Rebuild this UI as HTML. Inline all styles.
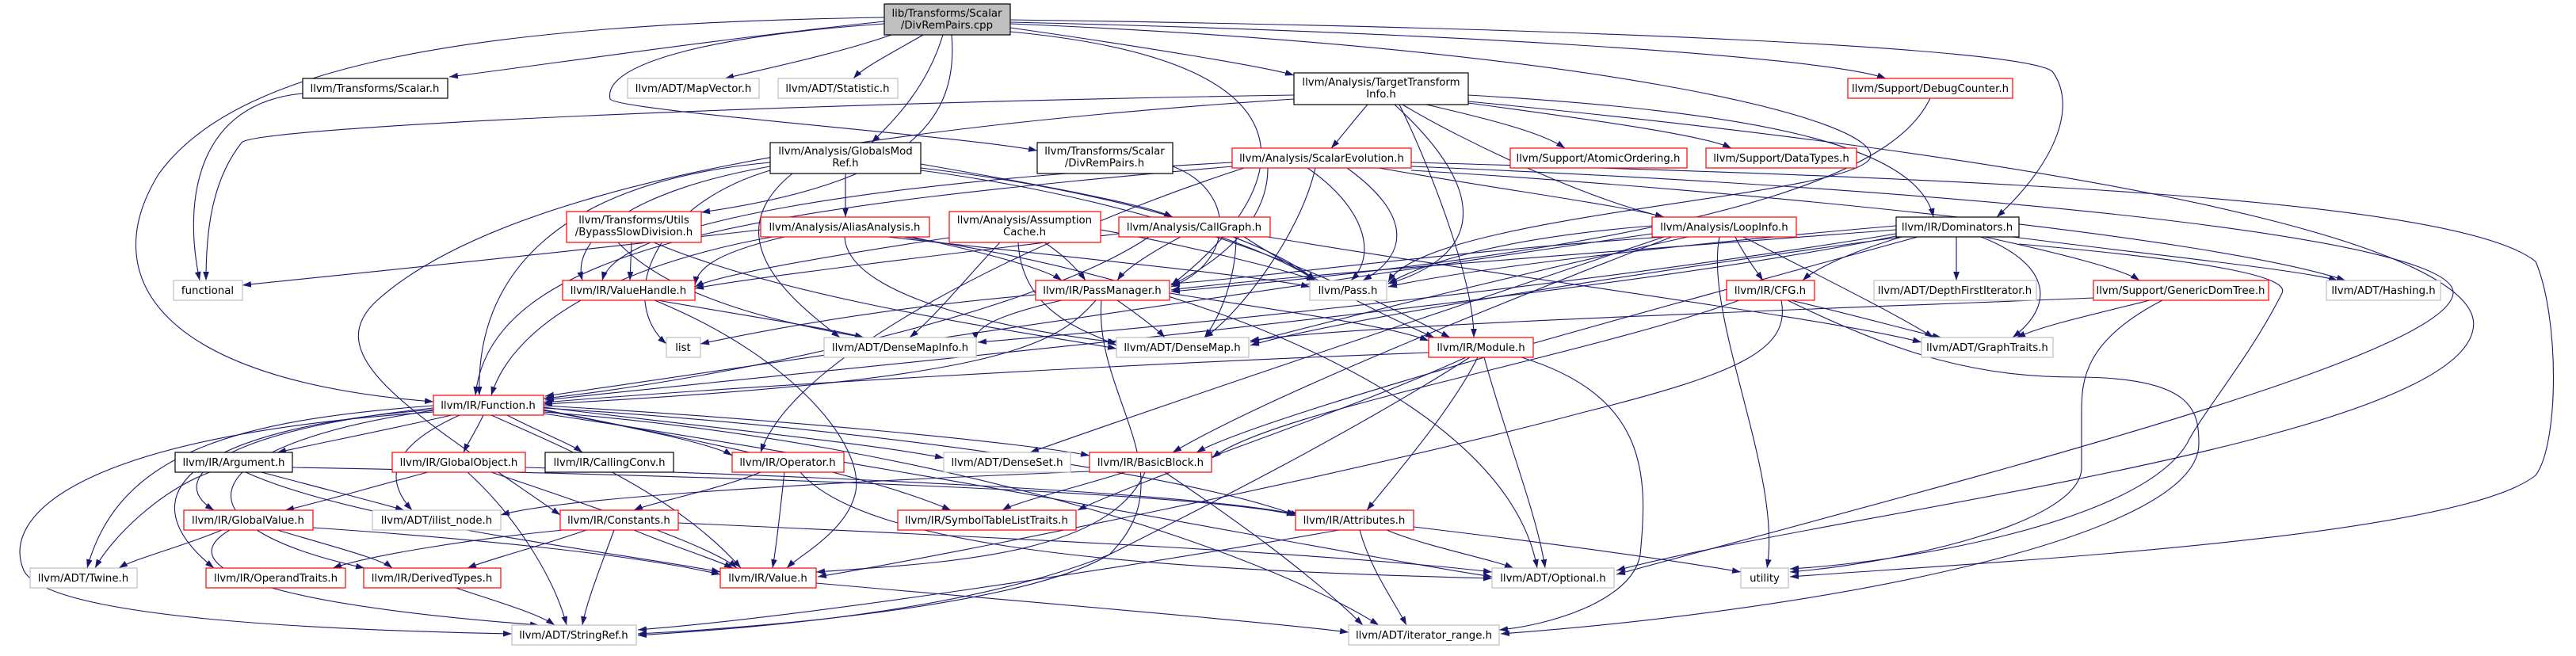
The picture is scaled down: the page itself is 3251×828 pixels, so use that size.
<!DOCTYPE html>
<html><head><meta charset="utf-8"><style>
html,body{margin:0;padding:0;background:#fff;}
svg{display:block;}
text{font-family:"DejaVu Sans","Liberation Sans",sans-serif;font-size:13.3px;fill:#000;}
</style></head><body>
<svg width="3251" height="828" viewBox="0 0 3251 828" xmlns="http://www.w3.org/2000/svg">
<defs><marker id="a" viewBox="0 0 10 7" refX="10" refY="3.5" markerWidth="11" markerHeight="8" markerUnits="userSpaceOnUse" orient="auto"><path d="M0,0 L10,3.5 L0,7 z" fill="#191970"/></marker></defs>
<g fill="none" stroke="#191970" stroke-width="1.1" marker-end="url(#a)">
<path d="M1116 27 C900 50 700 80 567 97"/>
<path d="M1125 44 C1050 70 950 90 915 99"/>
<path d="M1165 44 C1120 70 1090 85 1077 99"/>
<path d="M1190 44 C1170 110 1130 150 1100 180"/>
<path d="M1116 30 C900 45 760 80 770 125 C780 140 1200 170 1309 190"/>
<path d="M1275 35 C1450 60 1600 85 1633 95"/>
<path d="M1275 28 C1800 40 2300 70 2380 99"/>
<path d="M1275 25 C2000 35 2550 60 2590 90 C2620 130 2600 200 2520 274"/>
<path d="M1116 22 C600 30 300 80 200 220 C120 350 200 480 547 507"/>
<path d="M1201 44 C1210 150 1150 230 885 268"/>
<path d="M1275 30 C2000 60 2380 150 2360 200 C2330 250 1800 270 1752 356"/>
<path d="M1275 40 C1700 80 1620 250 1478 360"/>
<path d="M1633 120 C1000 130 320 160 305 180 C265 230 260 300 260 354"/>
<path d="M382 118 C250 130 230 250 252 354"/>
<path d="M1726 132 C1710 150 1695 170 1680 187"/>
<path d="M1800 132 C1900 155 1950 170 1975 187"/>
<path d="M1853 130 C2000 150 2150 170 2185 187"/>
<path d="M1770 132 C1850 180 2000 250 2100 274"/>
<path d="M1760 132 C1900 260 1850 330 1752 358"/>
<path d="M1766 132 C1800 200 1860 350 1860 426"/>
<path d="M1853 120 C2200 140 2420 180 2440 274"/>
<path d="M1853 128 C2800 220 3150 330 3120 420 C3080 560 2300 650 2040 720"/>
<path d="M1633 125 C1100 160 640 230 475 380 C400 450 520 520 707 650"/>
<path d="M1781 205 C2500 225 3100 250 3200 330 C3230 400 3230 560 3200 600 C3100 680 2500 710 2259 728"/>
<path d="M1781 210 C2500 240 3100 300 3096 370 C3090 450 2500 600 2040 725"/>
<path d="M1781 215 C2200 240 2800 300 2960 354"/>
<path d="M1740 212 C1900 240 2050 260 2100 274"/>
<path d="M1700 212 C1780 270 1780 320 1720 354"/>
<path d="M1650 212 C1720 260 1740 320 1705 354"/>
<path d="M1600 212 C1600 280 1540 330 1478 360"/>
<path d="M1555 205 C1100 230 780 280 760 354"/>
<path d="M1555 210 C1000 260 620 300 600 499"/>
<path d="M1570 212 C1300 300 1000 450 960 571"/>
<path d="M1660 212 C1640 300 1560 400 1520 426"/>
<path d="M1067 219 L1067 274"/>
<path d="M1162 207 C1350 240 1450 260 1480 274"/>
<path d="M972 205 C700 230 600 350 605 499"/>
<path d="M972 210 C800 240 720 300 735 354"/>
<path d="M1162 212 C1400 240 1600 300 1660 354"/>
<path d="M1162 215 C1500 260 1700 360 1830 426"/>
<path d="M972 215 C820 260 780 380 841 434"/>
<path d="M1000 219 C900 300 1000 380 1060 426"/>
<path d="M1480 210 C1560 240 1560 330 1478 362"/>
<path d="M1150 299 C1250 320 1320 340 1340 354"/>
<path d="M1120 299 C1400 330 1600 350 1653 362"/>
<path d="M1066 299 C1070 380 1300 420 1409 432"/>
<path d="M975 299 C800 330 650 400 620 499"/>
<path d="M990 299 C900 320 880 340 877 360"/>
<path d="M1140 299 C1500 350 1900 500 1940 717"/>
<path d="M960 290 C700 320 400 350 306 360"/>
<path d="M1318 306 C1340 320 1360 340 1370 354"/>
<path d="M1285 306 C1290 400 1380 420 1409 436"/>
<path d="M1262 306 C1220 350 1180 400 1148 426"/>
<path d="M1198 300 C1000 330 900 350 877 362"/>
<path d="M1389 290 C1500 310 1620 340 1660 354"/>
<path d="M1490 299 C1450 320 1420 340 1410 354"/>
<path d="M1540 299 C1600 320 1640 340 1660 354"/>
<path d="M1412 295 C1200 320 950 350 877 364"/>
<path d="M1560 299 C1560 350 1540 400 1520 426"/>
<path d="M1450 299 C1300 400 900 480 686 503"/>
<path d="M1600 299 C1900 350 2300 400 2425 432"/>
<path d="M1570 299 C1650 350 1750 400 1810 426"/>
<path d="M797 306 L795 354"/>
<path d="M825 306 C1000 380 1300 420 1409 440"/>
<path d="M780 306 C850 380 1000 410 1090 426"/>
<path d="M830 379 C950 400 1050 415 1090 426"/>
<path d="M826 379 C1000 450 1090 560 1080 620 C1070 670 1010 700 993 717"/>
<path d="M1410 379 C1440 400 1460 415 1470 426"/>
<path d="M1476 370 C1600 390 1750 410 1803 430"/>
<path d="M1383 379 C1330 440 1250 480 686 510"/>
<path d="M1307 372 C1100 390 950 420 884 434"/>
<path d="M1390 379 C1380 500 1500 600 1400 700 C1300 760 1000 790 805 800"/>
<path d="M1340 379 C1250 400 1230 415 1232 430"/>
<path d="M2469 299 L2469 354"/>
<path d="M2505 299 C2600 320 2680 340 2700 354"/>
<path d="M2540 299 C2700 320 2900 340 2950 354"/>
<path d="M2400 299 C2330 320 2290 340 2275 354"/>
<path d="M2393 285 C2100 310 1850 340 1752 362"/>
<path d="M2393 290 C2000 320 1600 350 1478 366"/>
<path d="M2400 299 C2100 340 1700 400 1578 436"/>
<path d="M2393 295 C2000 360 1500 410 1234 432"/>
<path d="M2420 299 C2200 360 1600 520 1510 571"/>
<path d="M2393 298 C2000 380 1000 470 688 505"/>
<path d="M2500 299 C2580 330 2600 380 2540 426"/>
<path d="M2548 308 C2800 330 2890 350 2880 370 C2840 450 2780 520 2760 560 C2700 660 2400 710 2259 718"/>
<path d="M2190 299 C2200 320 2215 340 2225 354"/>
<path d="M2085 285 C1900 300 1800 330 1752 358"/>
<path d="M2100 299 C1800 320 1600 350 1478 358"/>
<path d="M2130 299 C1900 350 1700 400 1578 432"/>
<path d="M2200 299 C2300 350 2400 400 2440 426"/>
<path d="M2170 299 C2150 400 2250 600 2230 717"/>
<path d="M2110 299 C1900 380 1600 500 1480 571"/>
<path d="M2100 299 C1800 400 1500 500 1300 571"/>
<path d="M2085 295 C1500 380 900 470 688 500"/>
<path d="M2260 379 C2350 400 2420 420 2450 426"/>
<path d="M2195 379 C2000 450 1600 520 1530 578"/>
<path d="M2248 379 C2260 440 2200 470 2000 520 C1700 600 1200 700 1032 728"/>
<path d="M2256 379 C2400 450 2500 476 2620 476 C2770 476 2775 520 2775 560 C2775 680 2300 770 1894 800"/>
<path d="M2729 379 C2630 430 2627 480 2627 520 L2627 590 C2627 660 2400 710 2259 722"/>
<path d="M2642 376 C2300 390 1700 410 1578 430"/>
<path d="M2713 379 C2650 395 2580 410 2545 426"/>
<path d="M1803 445 C1400 460 900 490 686 508"/>
<path d="M1865 451 C1830 520 1760 600 1725 644"/>
<path d="M1873 451 C1900 550 1940 650 1950 717"/>
<path d="M1920 451 C2080 500 2080 600 2070 700 C2060 760 1950 790 1892 795"/>
<path d="M1855 451 C1700 550 1500 650 1400 700 C1200 780 900 795 805 802"/>
<path d="M1850 451 C1700 520 1450 600 1360 644"/>
<path d="M570 524 C500 540 400 560 350 571"/>
<path d="M610 524 C600 545 590 560 585 571"/>
<path d="M640 524 C680 545 720 560 735 571"/>
<path d="M686 518 C800 540 900 560 924 575"/>
<path d="M686 514 C900 540 1100 560 1191 578"/>
<path d="M686 512 C1000 530 1300 560 1375 575"/>
<path d="M686 517 C900 560 1100 600 1200 644"/>
<path d="M686 515 C1100 540 1500 600 1635 650"/>
<path d="M580 524 C500 560 480 600 520 644"/>
<path d="M620 524 C700 560 850 620 935 717"/>
<path d="M547 512 C300 530 150 570 110 717"/>
<path d="M547 515 C300 540 200 600 270 644"/>
<path d="M547 517 C250 540 150 620 270 717"/>
<path d="M547 518 C250 560 200 660 460 717"/>
<path d="M547 520 C100 550 0 650 30 720 C60 780 400 795 646 800"/>
<path d="M686 520 C1200 560 1600 700 1740 789"/>
<path d="M686 522 C1200 600 1700 700 1883 728"/>
<path d="M265 596 C200 620 140 680 120 717"/>
<path d="M330 596 C420 620 480 635 510 644"/>
<path d="M310 596 C450 660 800 700 909 722"/>
<path d="M369 590 C900 600 1500 620 1635 650"/>
<path d="M540 596 C450 620 400 635 360 644"/>
<path d="M590 596 C650 650 700 730 715 789"/>
<path d="M620 596 C750 640 900 690 930 717"/>
<path d="M663 590 C1000 600 1500 620 1640 650"/>
<path d="M960 596 C900 620 820 635 800 644"/>
<path d="M990 596 C985 640 980 690 975 717"/>
<path d="M1010 596 C1100 700 1500 720 1883 730"/>
<path d="M1420 596 C1340 620 1280 635 1265 644"/>
<path d="M1445 596 C1400 700 1200 710 1030 722"/>
<path d="M1470 596 C1550 650 1650 720 1720 789"/>
<path d="M1375 595 C1000 610 700 630 632 650"/>
<path d="M280 669 C230 690 170 705 150 717"/>
<path d="M350 669 C420 690 480 705 495 717"/>
<path d="M290 669 C220 710 300 760 680 789"/>
<path d="M395 666 C600 680 800 700 909 725"/>
<path d="M710 669 C600 680 470 700 420 717"/>
<path d="M740 669 C680 690 620 705 590 717"/>
<path d="M775 669 C760 710 740 760 735 789"/>
<path d="M800 669 C850 690 900 705 925 717"/>
<path d="M856 660 C1300 680 1700 700 1883 722"/>
<path d="M1750 669 C1800 690 1880 705 1910 717"/>
<path d="M1716 669 C1730 720 1760 760 1775 789"/>
<path d="M1690 669 C1400 720 1000 780 805 795"/>
<path d="M1784 665 C1950 685 2100 705 2197 722"/>
<path d="M575 742 C630 760 680 775 700 789"/>
<path d="M1030 736 C1300 760 1600 785 1702 798"/>
<path d="M2436 124 C2400 200 2250 300 1478 368"/>
</g>
<g stroke-width="1.2">
<rect x="1116" y="5" width="159" height="39" fill="#bfbfbf" stroke="#000"/>
<g fill="#fff">
<rect x="382" y="99" width="183" height="25" stroke="#000"/>
<rect x="792" y="99" width="166" height="25" stroke="#bfbfbf"/>
<rect x="982" y="99" width="151" height="25" stroke="#bfbfbf"/>
<rect x="1633" y="92" width="220" height="40" stroke="#000"/>
<rect x="2332" y="99" width="208" height="25" stroke="#f00"/>
<rect x="972" y="180" width="190" height="39" stroke="#000"/>
<rect x="1309" y="180" width="171" height="39" stroke="#000"/>
<rect x="1555" y="187" width="226" height="25" stroke="#f00"/>
<rect x="1906" y="187" width="223" height="25" stroke="#f00"/>
<rect x="2153" y="187" width="190" height="25" stroke="#f00"/>
<rect x="715" y="267" width="170" height="39" stroke="#f00"/>
<rect x="960" y="274" width="213" height="25" stroke="#f00"/>
<rect x="1198" y="267" width="191" height="39" stroke="#f00"/>
<rect x="1412" y="274" width="191" height="25" stroke="#f00"/>
<rect x="2085" y="274" width="182" height="25" stroke="#f00"/>
<rect x="2393" y="274" width="155" height="25" stroke="#000"/>
<rect x="219" y="354" width="87" height="25" stroke="#bfbfbf"/>
<rect x="710" y="354" width="167" height="25" stroke="#f00"/>
<rect x="1307" y="354" width="169" height="25" stroke="#f00"/>
<rect x="1653" y="354" width="97" height="25" stroke="#bfbfbf"/>
<rect x="2179" y="354" width="111" height="25" stroke="#f00"/>
<rect x="2365" y="354" width="205" height="25" stroke="#bfbfbf"/>
<rect x="2642" y="354" width="221" height="25" stroke="#f00"/>
<rect x="2936" y="354" width="144" height="25" stroke="#bfbfbf"/>
<rect x="841" y="426" width="43" height="25" stroke="#bfbfbf"/>
<rect x="1040" y="426" width="192" height="25" stroke="#bfbfbf"/>
<rect x="1409" y="426" width="167" height="25" stroke="#bfbfbf"/>
<rect x="1803" y="426" width="132" height="25" stroke="#f00"/>
<rect x="2425" y="426" width="166" height="25" stroke="#bfbfbf"/>
<rect x="547" y="499" width="139" height="25" stroke="#f00"/>
<rect x="221" y="571" width="148" height="25" stroke="#000"/>
<rect x="495" y="571" width="168" height="25" stroke="#f00"/>
<rect x="688" y="571" width="162" height="25" stroke="#000"/>
<rect x="924" y="571" width="141" height="25" stroke="#f00"/>
<rect x="1191" y="571" width="160" height="25" stroke="#bfbfbf"/>
<rect x="1375" y="571" width="154" height="25" stroke="#f00"/>
<rect x="232" y="644" width="163" height="25" stroke="#f00"/>
<rect x="470" y="644" width="162" height="25" stroke="#bfbfbf"/>
<rect x="707" y="644" width="149" height="25" stroke="#f00"/>
<rect x="1133" y="644" width="225" height="25" stroke="#f00"/>
<rect x="1635" y="644" width="149" height="25" stroke="#f00"/>
<rect x="38" y="717" width="135" height="25" stroke="#bfbfbf"/>
<rect x="260" y="717" width="176" height="25" stroke="#f00"/>
<rect x="459" y="717" width="173" height="25" stroke="#f00"/>
<rect x="909" y="717" width="121" height="25" stroke="#f00"/>
<rect x="1883" y="717" width="154" height="25" stroke="#bfbfbf"/>
<rect x="2197" y="717" width="60" height="25" stroke="#bfbfbf"/>
<rect x="646" y="789" width="157" height="25" stroke="#bfbfbf"/>
<rect x="1702" y="789" width="190" height="25" stroke="#bfbfbf"/>
</g></g>
<g text-anchor="middle" lengthAdjust="spacingAndGlyphs">
<text x="1195" y="21">lib/Transforms/Scalar</text><text x="1195" y="36">/DivRemPairs.cpp</text>
<text x="473" y="116">llvm/Transforms/Scalar.h</text>
<text x="875" y="116">llvm/ADT/MapVector.h</text>
<text x="1057" y="116">llvm/ADT/Statistic.h</text>
<text x="1743" y="108">llvm/Analysis/TargetTransform</text><text x="1743" y="123">Info.h</text>
<text x="2436" y="116">llvm/Support/DebugCounter.h</text>
<text x="1067" y="195">llvm/Analysis/GlobalsMod</text><text x="1067" y="210">Ref.h</text>
<text x="1394" y="195">llvm/Transforms/Scalar</text><text x="1394" y="210">/DivRemPairs.h</text>
<text x="1668" y="204">llvm/Analysis/ScalarEvolution.h</text>
<text x="2017" y="204">llvm/Support/AtomicOrdering.h</text>
<text x="2248" y="204">llvm/Support/DataTypes.h</text>
<text x="800" y="282">llvm/Transforms/Utils</text><text x="800" y="297">/BypassSlowDivision.h</text>
<text x="1066" y="291">llvm/Analysis/AliasAnalysis.h</text>
<text x="1293" y="282">llvm/Analysis/Assumption</text><text x="1293" y="297">Cache.h</text>
<text x="1507" y="291">llvm/Analysis/CallGraph.h</text>
<text x="2176" y="291">llvm/Analysis/LoopInfo.h</text>
<text x="2470" y="291">llvm/IR/Dominators.h</text>
<text x="262" y="371">functional</text>
<text x="793" y="371">llvm/IR/ValueHandle.h</text>
<text x="1391" y="371">llvm/IR/PassManager.h</text>
<text x="1701" y="371">llvm/Pass.h</text>
<text x="2234" y="371">llvm/IR/CFG.h</text>
<text x="2467" y="371">llvm/ADT/DepthFirstIterator.h</text>
<text x="2752" y="371">llvm/Support/GenericDomTree.h</text>
<text x="3008" y="371">llvm/ADT/Hashing.h</text>
<text x="862" y="443">list</text>
<text x="1136" y="443">llvm/ADT/DenseMapInfo.h</text>
<text x="1492" y="443">llvm/ADT/DenseMap.h</text>
<text x="1869" y="443">llvm/IR/Module.h</text>
<text x="2508" y="443">llvm/ADT/GraphTraits.h</text>
<text x="616" y="516">llvm/IR/Function.h</text>
<text x="295" y="588">llvm/IR/Argument.h</text>
<text x="579" y="588">llvm/IR/GlobalObject.h</text>
<text x="769" y="588">llvm/IR/CallingConv.h</text>
<text x="994" y="588">llvm/IR/Operator.h</text>
<text x="1271" y="588">llvm/ADT/DenseSet.h</text>
<text x="1452" y="588">llvm/IR/BasicBlock.h</text>
<text x="313" y="661">llvm/IR/GlobalValue.h</text>
<text x="551" y="661">llvm/ADT/ilist_node.h</text>
<text x="781" y="661">llvm/IR/Constants.h</text>
<text x="1245" y="661">llvm/IR/SymbolTableListTraits.h</text>
<text x="1709" y="661">llvm/IR/Attributes.h</text>
<text x="105" y="734">llvm/ADT/Twine.h</text>
<text x="348" y="734">llvm/IR/OperandTraits.h</text>
<text x="545" y="734">llvm/IR/DerivedTypes.h</text>
<text x="969" y="734">llvm/IR/Value.h</text>
<text x="1960" y="734">llvm/ADT/Optional.h</text>
<text x="2227" y="734">utility</text>
<text x="724" y="806">llvm/ADT/StringRef.h</text>
<text x="1797" y="806">llvm/ADT/iterator_range.h</text>
</g>
</svg>
</body></html>
